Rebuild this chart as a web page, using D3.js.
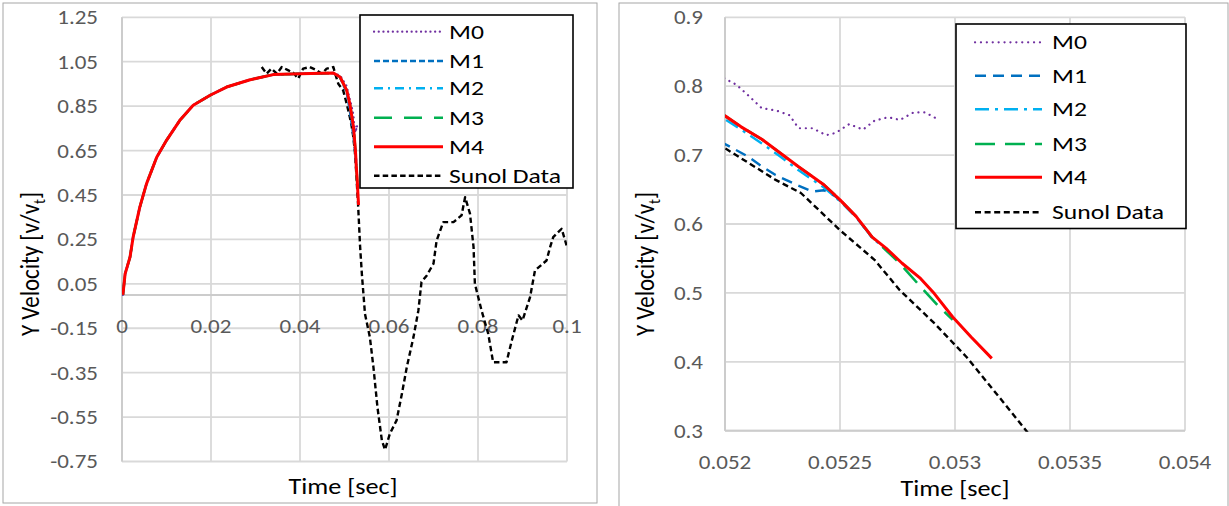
<!DOCTYPE html>
<html>
<head>
<meta charset="utf-8">
<script src="https://cdn.jsdelivr.net/npm/d3@7"></script>
<style>
html,body{margin:0;padding:0;background:#fff;}
svg{display:block;font-family:Carlito,Lato,"Open Sans",sans-serif;}
</style>
</head>
<body>
<svg id="chart" width="1229" height="506"></svg>
<script>
// ---------- data ----------
const seriesNames = ["M0", "M1", "M2", "M3", "M4", "Sunol Data"];
const seriesColors = ["#7030A0", "#0070C0", "#00B0F0", "#00B050", "#FF0000", "#000000"];

// shared acceleration phase (all model curves coincide here) [time, velocity]
const risePoints = [
  [0.0002, 0.0], [0.0007, 0.095], [0.0018, 0.17], [0.0025, 0.26], [0.004, 0.395],
  [0.0055, 0.50], [0.0078, 0.62], [0.01, 0.696], [0.013, 0.786], [0.016, 0.854],
  [0.0198, 0.899], [0.0235, 0.936], [0.0288, 0.969], [0.034, 0.992], [0.04, 0.996],
  [0.0475, 0.999]
];
const m0Points = [
  [0.049, 0.988], [0.0505, 0.94], [0.0512, 0.88], [0.0516, 0.85], [0.052, 0.811],
  [0.05205, 0.802], [0.0521, 0.787], [0.05216, 0.768], [0.05222, 0.765], [0.05228, 0.758],
  [0.05232, 0.739], [0.05238, 0.739], [0.05244, 0.729], [0.05248, 0.732], [0.05254, 0.745],
  [0.0526, 0.737], [0.05265, 0.75], [0.05271, 0.755], [0.05276, 0.751], [0.05282, 0.762],
  [0.05287, 0.762], [0.05292, 0.753]
];
const m1Points = [
  [0.049, 0.98], [0.0505, 0.91], [0.0512, 0.83], [0.0516, 0.77], [0.052, 0.716],
  [0.0521, 0.698], [0.05215, 0.686], [0.05222, 0.671], [0.05231, 0.657], [0.05238, 0.647],
  [0.05243, 0.649], [0.05248, 0.640], [0.0525, 0.634], [0.05257, 0.610], [0.05264, 0.580]
];
const m2Points = [
  [0.049, 0.981], [0.0505, 0.92], [0.0512, 0.855], [0.0516, 0.805], [0.052, 0.752],
  [0.05207, 0.737], [0.05216, 0.717], [0.05224, 0.698], [0.05232, 0.678], [0.05243, 0.653],
  [0.0525, 0.633], [0.05257, 0.610], [0.05264, 0.580], [0.0527, 0.563]
];
const m3Points = [
  [0.049, 0.981], [0.0505, 0.921], [0.0512, 0.86], [0.0516, 0.81], [0.052, 0.757],
  [0.05207, 0.741], [0.05216, 0.723], [0.05224, 0.703], [0.05232, 0.683], [0.05243, 0.657],
  [0.0525, 0.635], [0.05257, 0.611], [0.05264, 0.581], [0.0527, 0.562], [0.05276, 0.543],
  [0.05285, 0.509], [0.05293, 0.480], [0.05299, 0.461]
];
const m4Points = [
  [0.049, 0.981], [0.0505, 0.921], [0.0512, 0.86], [0.0516, 0.81], [0.052, 0.757],
  [0.05207, 0.741], [0.05216, 0.723], [0.05224, 0.703], [0.05232, 0.683], [0.05243, 0.657],
  [0.0525, 0.635], [0.05257, 0.611], [0.05264, 0.581], [0.0527, 0.565], [0.05277, 0.543],
  [0.05285, 0.521], [0.05291, 0.499], [0.05299, 0.465], [0.05307, 0.436], [0.05316, 0.405]
];
const sunolPoints = [
  [0.0314, 1.026], [0.0325, 0.996], [0.0336, 1.019], [0.0348, 0.996], [0.0359, 1.026],
  [0.0374, 1.011], [0.0385, 1.0], [0.0396, 0.974], [0.0407, 1.019], [0.0422, 1.026],
  [0.0438, 1.011], [0.0449, 0.996], [0.046, 1.019], [0.0475, 1.026], [0.0479, 0.996],
  [0.0486, 0.951], [0.0497, 0.921], [0.0505, 0.86], [0.0512, 0.80], [0.0516, 0.76],
  [0.052, 0.710], [0.05212, 0.685], [0.05222, 0.664], [0.05233, 0.645], [0.0525, 0.591],
  [0.05265, 0.548], [0.05276, 0.504], [0.05291, 0.456], [0.05305, 0.407], [0.05316, 0.362],
  [0.0533, 0.304], [0.0535, 0.22], [0.0539, 0.095], [0.0546, -0.085], [0.0557, -0.19],
  [0.0565, -0.325], [0.0574, -0.505], [0.0584, -0.655], [0.0591, -0.697], [0.0602, -0.625],
  [0.0617, -0.565], [0.0629, -0.445], [0.064, -0.325], [0.0655, -0.19], [0.0666, -0.07],
  [0.0673, 0.058], [0.0685, 0.088], [0.07, 0.141], [0.0707, 0.245], [0.0722, 0.328],
  [0.0745, 0.328], [0.0763, 0.358], [0.0771, 0.44], [0.0782, 0.366], [0.079, 0.215],
  [0.0793, 0.05], [0.0808, -0.07], [0.0823, -0.175], [0.0834, -0.303], [0.0864, -0.303],
  [0.0876, -0.205], [0.0891, -0.092], [0.09, -0.115], [0.0917, -0.01], [0.0928, 0.11],
  [0.0954, 0.155], [0.0962, 0.215], [0.0969, 0.26], [0.0988, 0.298], [0.0999, 0.223]
];

const leftXTicks = [0, 0.02, 0.04, 0.06, 0.08, 0.1];
const leftXLabels = ["0", "0.02", "0.04", "0.06", "0.08", "0.1"];
const leftYTicks = [-0.75, -0.55, -0.35, -0.15, 0.05, 0.25, 0.45, 0.65, 0.85, 1.05, 1.25];
const leftYLabels = ["-0.75", "-0.55", "-0.35", "-0.15", "0.05", "0.25", "0.45", "0.65", "0.85", "1.05", "1.25"];
const rightXTicks = [0.052, 0.0525, 0.053, 0.0535, 0.054];
const rightXLabels = ["0.052", "0.0525", "0.053", "0.0535", "0.054"];
const rightYTicks = [0.3, 0.4, 0.5, 0.6, 0.7, 0.8, 0.9];
const rightYLabels = ["0.3", "0.4", "0.5", "0.6", "0.7", "0.8", "0.9"];

const seriesData = [
  risePoints.concat(m0Points),
  risePoints.concat(m1Points),
  risePoints.concat(m2Points),
  risePoints.concat(m3Points),
  risePoints.concat(m4Points),
  sunolPoints
];

// ---------- drawing ----------
const svg = d3.select("#chart");
const gridColor = "#d9d9d9";
const tickColor = "#595959";
const TICK_SX = 1.15, TITLE_SX = 1.14, LEG_SX = 1.22;

function drawPanel(cfg) {
  const g = svg.append("g");
  g.append("rect").attr("x", cfg.panel[0]).attr("y", cfg.panel[1])
    .attr("width", cfg.panel[2]).attr("height", cfg.panel[3])
    .attr("fill", "#fff").attr("stroke", "#a6a6a6").attr("stroke-width", 1);

  const x = d3.scaleLinear().domain(cfg.xDomain).range(cfg.xRange);
  const y = d3.scaleLinear().domain(cfg.yDomain).range(cfg.yRange);

  // gridlines
  g.append("g").selectAll("line").data(cfg.yTicks).join("line")
    .attr("x1", cfg.xRange[0]).attr("x2", cfg.xRange[1])
    .attr("y1", d => y(d)).attr("y2", d => y(d))
    .attr("stroke", gridColor).attr("stroke-width", 1.8);
  g.append("g").selectAll("line").data(cfg.xTicks).join("line")
    .attr("x1", d => x(d)).attr("x2", d => x(d))
    .attr("y1", cfg.yRange[0]).attr("y2", cfg.yRange[1])
    .attr("stroke", gridColor).attr("stroke-width", 1.8);

  // axis lines
  const xAxisY = y(cfg.xAxisAt);
  g.append("line").attr("x1", cfg.xRange[0]).attr("x2", cfg.xRange[1])
    .attr("y1", xAxisY).attr("y2", xAxisY).attr("stroke", "#cccccc").attr("stroke-width", 2);
  g.append("line").attr("x1", cfg.xRange[0]).attr("x2", cfg.xRange[0])
    .attr("y1", cfg.yRange[0]).attr("y2", cfg.yRange[1]).attr("stroke", "#cccccc").attr("stroke-width", 2);

  // tick labels (slightly widened to match the reference's glyph proportions)
  g.append("g").selectAll("text").data(cfg.yTicks).join("text")
    .attr("transform", d => `translate(${cfg.yLabelX},${y(d)}) scale(${TICK_SX},1)`)
    .attr("text-anchor", "end").attr("dominant-baseline", "central")
    .attr("fill", tickColor).attr("font-size", cfg.tickSize)
    .text((d, i) => cfg.yLabels[i]);
  g.append("g").selectAll("text").data(cfg.xTicks).join("text")
    .attr("transform", d => `translate(${x(d)},${cfg.xLabelY}) scale(${TICK_SX},1)`)
    .attr("text-anchor", "middle").attr("dominant-baseline", "central")
    .attr("fill", tickColor).attr("font-size", cfg.tickSize)
    .text((d, i) => cfg.xLabels[i]);

  // axis titles
  g.append("text")
    .attr("transform", `translate(${cfg.xTitle[0]},${cfg.xTitle[1]}) scale(${TITLE_SX},1)`)
    .attr("text-anchor", "middle").attr("font-size", cfg.titleSize).attr("fill", "#000")
    .text("Time [sec]");
  const yt = g.append("text")
    .attr("transform", `translate(${cfg.yTitle[0]},${cfg.yTitle[1]}) rotate(-90) scale(1,${TITLE_SX})`)
    .attr("text-anchor", "middle").attr("font-size", cfg.titleSize).attr("fill", "#000");
  yt.append("tspan").text("Y Velocity [v/v");
  yt.append("tspan").attr("font-size", cfg.titleSize * 0.65).attr("dy", 5).text("t");
  yt.append("tspan").attr("dy", -5).text("]");

  // clip
  const clipId = "clip" + cfg.id;
  svg.append("clipPath").attr("id", clipId).append("rect")
    .attr("x", cfg.xRange[0]).attr("y", cfg.yRange[1] - 1)
    .attr("width", cfg.xRange[1] - cfg.xRange[0]).attr("height", cfg.yRange[0] - cfg.yRange[1] + 2);

  const line = d3.line().x(d => x(d[0])).y(d => y(d[1]));
  const lines = g.append("g").attr("clip-path", `url(#${clipId})`);
  const order = [5, 0, 1, 2, 3, 4];
  order.forEach(i => {
    lines.append("path").datum(seriesData[i])
      .attr("d", line).attr("fill", "none")
      .attr("stroke", seriesColors[i])
      .attr("stroke-width", cfg.widths[i])
      .attr("stroke-dasharray", cfg.dashes[i])
      .attr("stroke-linecap", i === 0 ? "round" : "butt")
      .attr("stroke-linejoin", "round");
  });

  // legend
  const L = cfg.legend;
  const lg = g.append("g");
  lg.append("rect").attr("x", L.box[0]).attr("y", L.box[1]).attr("width", L.box[2]).attr("height", L.box[3])
    .attr("fill", "#fff").attr("stroke", "#000").attr("stroke-width", 1.6);
  seriesNames.forEach((name, i) => {
    const yy = L.rows[i];
    lg.append("line").attr("x1", L.lineX[0]).attr("x2", L.lineX[1])
      .attr("y1", yy).attr("y2", yy)
      .attr("stroke", seriesColors[i]).attr("stroke-width", cfg.widths[i])
      .attr("stroke-dasharray", cfg.dashes[i])
      .attr("stroke-linecap", i === 0 ? "round" : "butt");
    lg.append("text")
      .attr("transform", `translate(${L.textX},${yy}) scale(${LEG_SX},1)`)
      .attr("dominant-baseline", "central").attr("font-size", L.size).attr("fill", "#000")
      .text(name);
  });
}

drawPanel({
  id: "L",
  panel: [3, 3, 594, 500],
  xDomain: [0, 0.1], xRange: [122, 567],
  yDomain: [-0.75, 1.25], yRange: [461.5, 17.3],
  xTicks: leftXTicks, xLabels: leftXLabels, yTicks: leftYTicks, yLabels: leftYLabels,
  xAxisAt: 0,
  yLabelX: 98, xLabelY: 326, tickSize: 20,
  xTitle: [343, 494], yTitle: [39, 264], titleSize: 23,
  widths: [2.2, 2.4, 2.4, 2.6, 3, 2.4],
  dashes: ["0.1,4.6", "6,3", "9,5,2,5", "18,12", null, "5.5,3.2"],
  legend: { box: [360, 15, 213, 173], rows: [31.7, 61, 88.3, 117.7, 146.7, 175.7], lineX: [374, 443], textX: 449, size: 21 }
});

drawPanel({
  id: "R",
  panel: [619, 3, 609, 510],
  xDomain: [0.052, 0.054], xRange: [725, 1185],
  yDomain: [0.3, 0.9], yRange: [430.7, 17.3],
  xTicks: rightXTicks, xLabels: rightXLabels, yTicks: rightYTicks, yLabels: rightYLabels,
  xAxisAt: 0.3,
  yLabelX: 703, xLabelY: 462.5, tickSize: 20,
  xTitle: [955, 496], yTitle: [654, 264], titleSize: 23,
  widths: [2.2, 2.4, 2.4, 2.6, 3, 2.4],
  dashes: ["0.1,5.8", "11,7", "14,6,3,6", "20,10", null, "6,3.6"],
  legend: { box: [956, 24, 230, 204.5], rows: [42.3, 75.7, 109.3, 144, 177.3, 212.3], lineX: [975, 1042], textX: 1052, size: 21 }
});
</script>
</body>
</html>
